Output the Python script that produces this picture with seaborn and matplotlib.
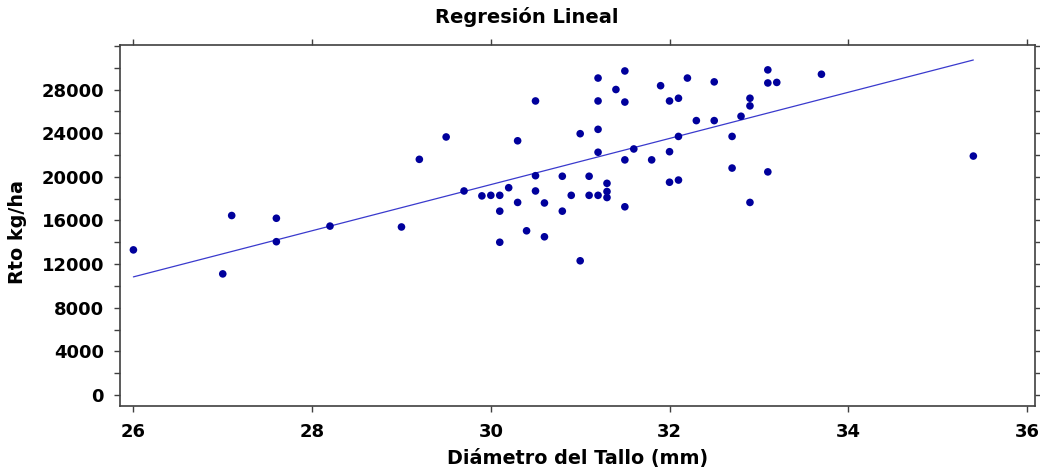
import matplotlib
matplotlib.use("Agg")
import matplotlib.pyplot as plt
import seaborn as sns
import numpy as np
import pandas as pd
from matplotlib.ticker import MultipleLocator

diametro = [26.0, 27.0, 27.1, 27.6, 27.6, 28.2, 29.0, 29.2, 29.5, 29.7,
            29.9, 30.0, 30.1, 30.1, 30.1, 30.2, 30.3, 30.3, 30.4, 30.5,
            30.5, 30.5, 30.6, 30.6, 30.8, 30.8, 30.9, 31.0, 31.0, 31.1,
            31.1, 31.2, 31.2, 31.2, 31.2, 31.2, 31.3, 31.3, 31.3, 31.4,
            31.5, 31.5, 31.5, 31.5, 31.6, 31.8, 31.9, 32.0, 32.0, 32.0,
            32.1, 32.1, 32.1, 32.2, 32.3, 32.5, 32.5, 32.7, 32.7, 32.8,
            32.9, 32.9, 32.9, 33.1, 33.1, 33.2, 33.1, 33.7, 35.4]
rendimiento = [13300, 11100, 16450, 16200, 14050, 15480, 15400, 21600, 23650, 18700,
               18250, 18300, 18300, 16850, 14000, 19000, 23300, 17650, 15050, 26950,
               20100, 18700, 17600, 14500, 20050, 16850, 18300, 12300, 23950, 20050,
               18300, 29050, 26950, 24350, 22250, 18300, 19400, 18650, 18100, 28000,
               29700, 26850, 21550, 17250, 22550, 21550, 28350, 26950, 22300, 19500,
               27200, 23700, 19700, 29050, 25150, 28700, 25150, 23700, 20800, 25550,
               27200, 26500, 17650, 29800, 28600, 28650, 20450, 29400, 21900]

# fitted regression line as shown in the chart
recta_intercepto = -44165.0
recta_pendiente = 2115.0

x_ticks = [26, 28, 30, 32, 34, 36]
y_ticks = [0, 4000, 8000, 12000, 16000, 20000, 24000, 28000]

titulo = "Regresión Lineal"
x_label = "Diámetro del Tallo (mm)"
y_label = "Rto kg/ha"

df = pd.DataFrame({"x": diametro, "y": rendimiento})
x_fit = np.array([min(diametro), max(diametro)])
df_fit = pd.DataFrame({"x": x_fit, "y": recta_intercepto + recta_pendiente * x_fit})

sns.set_theme(style="ticks")
plt.rcParams["font.family"] = ["DejaVu Sans"]
plt.rcParams["text.color"] = "black"
plt.rcParams["xtick.color"] = "#404040"
plt.rcParams["ytick.color"] = "#404040"
plt.rcParams["xtick.labelcolor"] = "black"
plt.rcParams["ytick.labelcolor"] = "black"
plt.rcParams["axes.labelcolor"] = "black"

fig = plt.figure(figsize=(10.4, 4.72), dpi=100)
ax = fig.add_axes([120 / 1040, 1 - 406 / 472, 915 / 1040, 361 / 472])

sns.lineplot(data=df_fit, x="x", y="y", ax=ax, color="#3A3ACD", linewidth=0.9)
sns.scatterplot(data=df, x="x", y="y", ax=ax, s=30, color="#00009C",
                edgecolor="none", zorder=3)

ax.set_xlim(25.85, 36.09)
ax.set_ylim(-1010, 32080)
ax.set_xticks(x_ticks)
ax.set_yticks(y_ticks)
ax.yaxis.set_minor_locator(MultipleLocator(2000))
ax.set_xticklabels([str(t) for t in x_ticks], fontsize=13, fontweight="bold")
ax.set_yticklabels([str(t) for t in y_ticks], fontsize=13, fontweight="bold")

ax.tick_params(axis="x", which="both", direction="out", length=4.5, width=1,
               top=True, bottom=True, labeltop=False, pad=8)
ax.tick_params(axis="y", which="both", direction="out", length=4.5, width=1,
               left=True, right=True, labelright=False, pad=7)

for s in ax.spines.values():
    s.set_visible(True)
    s.set_color("#404040")
    s.set_linewidth(1.2)

ax.set_xlabel(x_label, fontsize=13.75, fontweight="bold")
ax.set_ylabel(y_label, fontsize=13.75, fontweight="bold")
ax.xaxis.set_label_coords(0.5, -0.12)
ax.yaxis.set_label_coords(-0.1016, 0.482)

fig.text(527 / 1040, 1 - 17 / 472, titulo, ha="center", va="center",
         fontsize=14, fontweight="bold")

fig.savefig("out.png", dpi=100)
